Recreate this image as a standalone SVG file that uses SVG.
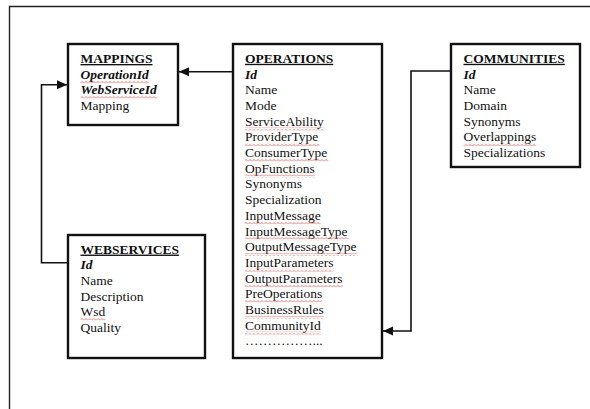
<svg xmlns="http://www.w3.org/2000/svg" width="590" height="409" viewBox="0 0 590 409">
  <style>
    .frame { fill: none; stroke: #222; stroke-width: 1.4; }
    .box { fill: #fff; stroke: #111; stroke-width: 2.4; }
    .wire { fill: none; stroke: #111; stroke-width: 1.6; }
    text { font-family: "Liberation Serif", "Times New Roman", serif; font-size: 13.5px; fill: #111; }
    .head { font-weight: bold; text-decoration: underline; }
    .key { font-weight: bold; font-style: italic; }
    .spell { fill: url(#squiggle); }
  </style>
  <defs>
    <marker id="arrow" markerUnits="userSpaceOnUse" markerWidth="10" markerHeight="10" viewBox="0 0 10 10" refX="10" refY="5" orient="auto">
      <path d="M0,0.5 L10,5 L0,9.5 Z" fill="#111"/>
    </marker>
    <!-- wavy spell-check underline -->
    <pattern id="squiggle" patternUnits="userSpaceOnUse" width="4" height="3">
      <path d="M0,2.4 L1,1.2 L2,0.6 L3,1.2 L4,2.4" fill="none" stroke="#e06a6a" stroke-width="0.8"/>
    </pattern>
  </defs>

  <!-- page frame -->
  <path class="frame" d="M9.5,409 V6.5 H590"/>

  <!-- connectors -->
  <g id="connectors">
    <path class="wire" d="M233,71.7 H179" marker-end="url(#arrow)"/>
    <path class="wire" d="M68,262.7 H41.5 V84.7 H67" marker-end="url(#arrow)"/>
    <path class="wire" d="M451,71 H411 V331 H383" marker-end="url(#arrow)"/>
  </g>

  <g id="mappings">
    <rect class="box" x="68" y="44" width="110" height="81"/>
    <text class="head" x="80.5" y="63">MAPPINGS</text>
    <text class="key" x="80.5" y="78.7">OperationId</text>
    <text class="key" x="80.5" y="94.4">WebServiceId</text>
    <text x="80.5" y="110.1">Mapping</text>
    <rect class="spell" x="80.5" y="80.5" width="68.5" height="3"/>
    <rect class="spell" x="80.5" y="96.2" width="77" height="3"/>
  </g>

  <g id="operations">
    <rect class="box" x="233" y="44" width="149" height="314"/>
    <text class="head" x="245" y="62.8">OPERATIONS</text>
    <text class="key" x="245" y="78.5">Id</text>
    <text x="245" y="94.2">Name</text>
    <text x="245" y="109.9">Mode</text>
    <text x="245" y="125.6">ServiceAbility</text>
    <text x="245" y="141.3">ProviderType</text>
    <text x="245" y="157">ConsumerType</text>
    <text x="245" y="172.7">OpFunctions</text>
    <text x="245" y="188.4">Synonyms</text>
    <text x="245" y="204.1">Specialization</text>
    <text x="245" y="219.8">InputMessage</text>
    <text x="245" y="235.5">InputMessageType</text>
    <text x="245" y="251.2">OutputMessageType</text>
    <text x="245" y="266.9">InputParameters</text>
    <text x="245" y="282.6">OutputParameters</text>
    <text x="245" y="298.3">PreOperations</text>
    <text x="245" y="314">BusinessRules</text>
    <text x="245" y="329.7">CommunityId</text>
    <text x="245" y="345.4">……………...</text>
    <rect class="spell" x="245" y="127.4" width="78.7" height="3"/>
    <rect class="spell" x="245" y="143.1" width="74.2" height="3"/>
    <rect class="spell" x="245" y="158.8" width="83.2" height="3"/>
    <rect class="spell" x="245" y="174.5" width="69.8" height="3"/>
    <rect class="spell" x="245" y="221.6" width="75.7" height="3"/>
    <rect class="spell" x="245" y="237.3" width="103.5" height="3"/>
    <rect class="spell" x="245" y="253" width="112.5" height="3"/>
    <rect class="spell" x="245" y="268.7" width="88.5" height="3"/>
    <rect class="spell" x="245" y="284.4" width="97.5" height="3"/>
    <rect class="spell" x="245" y="300.1" width="77.2" height="3"/>
    <rect class="spell" x="245" y="315.8" width="78.8" height="3"/>
    <rect class="spell" x="245" y="331.5" width="75.8" height="3"/>
  </g>

  <g id="communities">
    <rect class="box" x="451" y="44" width="129" height="123"/>
    <text class="head" x="463.5" y="62.8">COMMUNITIES</text>
    <text class="key" x="463.5" y="78.5">Id</text>
    <text x="463.5" y="94.2">Name</text>
    <text x="463.5" y="109.9">Domain</text>
    <text x="463.5" y="125.6">Synonyms</text>
    <text x="463.5" y="141.3">Overlappings</text>
    <text x="463.5" y="157">Specializations</text>
    <rect class="spell" x="463.5" y="143.1" width="72.7" height="3"/>
  </g>

  <g id="webservices">
    <rect class="box" x="68" y="235" width="137" height="123"/>
    <text class="head" x="80.5" y="253.6">WEBSERVICES</text>
    <text class="key" x="80.5" y="269.3">Id</text>
    <text x="80.5" y="285">Name</text>
    <text x="80.5" y="300.7">Description</text>
    <text x="80.5" y="316.4">Wsd</text>
    <text x="80.5" y="332.1">Quality</text>
    <rect class="spell" x="80.5" y="318.2" width="24.7" height="3"/>
  </g>
</svg>
